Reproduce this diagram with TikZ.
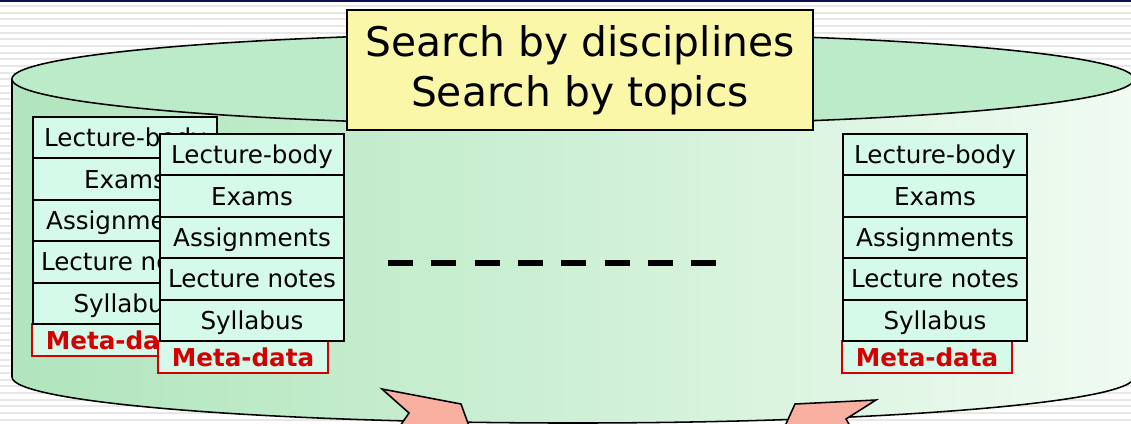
\documentclass[tikz,border=0pt]{standalone}
\usepackage{fontspec}
\setmainfont{DejaVu Sans}
\usetikzlibrary{positioning, calc}
\definecolor{ctop}{RGB}{187,235,200}
\definecolor{cleft}{RGB}{176,229,189}
\definecolor{cmid}{RGB}{206,240,213}
\definecolor{cright}{RGB}{240,251,242}
\definecolor{cmint}{RGB}{214,250,234}
\definecolor{cyellow}{RGB}{250,247,168}
\definecolor{cpink}{RGB}{250,176,160}
\definecolor{cred}{RGB}{210,0,0}
\definecolor{cnavy}{RGB}{12,12,80}
\definecolor{cstripe}{RGB}{231,231,231}

\begin{document}
\begin{tikzpicture}[
  x=0.025cm, y=-0.025cm,
  slab/.style={rectangle, draw=black, fill=cmint, line width=1.4pt, minimum width=4.6cm, minimum height=1.035cm,
    inner sep=0pt, outer sep=0pt, text height=12.8pt, text depth=0pt, font=\fontsize{17.5}{21}\selectfont},
  metabox/.style={rectangle, draw=cred, fill=cmint, line width=1.1pt, minimum width=4.25cm, minimum height=0.8cm,
    inner sep=0pt, outer sep=0pt, text height=12.8pt, text depth=0pt, text=cred, font=\fontsize{17.5}{21}\selectfont\bfseries},
  banner/.style={rectangle, draw=black, fill=cyellow, line width=1.4pt, minimum width=11.65cm, minimum height=3cm,
    inner sep=0pt, align=center, font=\fontsize{29}{35.2}\selectfont},
  cyl/.style={draw=black, line width=1.1pt},
  pointer/.style={draw=black, fill=cpink, line width=1.1pt, line join=miter},
  dotsline/.style={line width=4.3pt, dash pattern=on 17.8pt off 13pt},
]
\clip (0,0) rectangle (1131,423);

% ---- striped page background
\fill[white] (0,0) rectangle (1131,423);
\foreach \yy in {5,11.67,...,423}
  \fill[cstripe] (0,\yy) rectangle (1131,\yy+2);
\fill[cnavy] (0,0) rectangle (1131,1.6);

% ---- cylinder: shaded body, then lid
\path[left color=cleft, right color=cright, middle color=cmid]
  (12,79) -- (12,377) arc[start angle=180, end angle=360, x radius=14.025cm, y radius=1.15cm] -- (1134,79) -- cycle;
\draw[cyl] (12,79) -- (12,377) arc[start angle=180, end angle=360, x radius=14.025cm, y radius=1.15cm] -- (1134,79);
\draw[cyl, fill=ctop] (573,79) ellipse[x radius=14.025cm, y radius=1.15cm];

% ---- back stack (left)
\node[metabox, anchor=north west] (am) at (32,324) {Meta-data};
\node[slab, anchor=north west] (a1) at (33,117) {Lecture-body};
\node[slab, below=0pt of a1] (a2) {Exams};
\node[slab, below=0pt of a2] (a3) {Assignments};
\node[slab, below=0pt of a3] (a4) {Lecture notes};
\node[slab, below=0pt of a4] (a5) {Syllabus};

% ---- front stack (left)
\node[metabox, anchor=north west] (bm) at (158,341) {Meta-data};
\node[slab, anchor=north west] (b1) at (160,134) {Lecture-body};
\node[slab, below=0pt of b1] (b2) {Exams};
\node[slab, below=0pt of b2] (b3) {Assignments};
\node[slab, below=0pt of b3] (b4) {Lecture notes};
\node[slab, below=0pt of b4] (b5) {Syllabus};

% ---- stack (right)
\node[metabox, anchor=north west] (cm) at (842,341) {Meta-data};
\node[slab, anchor=north west] (c1) at (843,134) {Lecture-body};
\node[slab, below=0pt of c1] (c2) {Exams};
\node[slab, below=0pt of c2] (c3) {Assignments};
\node[slab, below=0pt of c3] (c4) {Lecture notes};
\node[slab, below=0pt of c4] (c5) {Syllabus};

% ---- more stacks in between
\coordinate (d0) at (388,263);
\coordinate (d1) at (716,263);
\draw[dotsline] (d0) -- (d1);

% ---- search box on the lid
\node[banner] (t) at (580,70) {Search by disciplines\\Search by topics};

% ---- query arrows coming in from below
\draw[pointer] (400,426) -- (409,413) -- (382,389) -- (461,404) -- (469,426);
\draw[pointer] (785,426) -- (795,404) -- (876,400) -- (846,419) -- (850,426);

\end{tikzpicture}
\end{document}
